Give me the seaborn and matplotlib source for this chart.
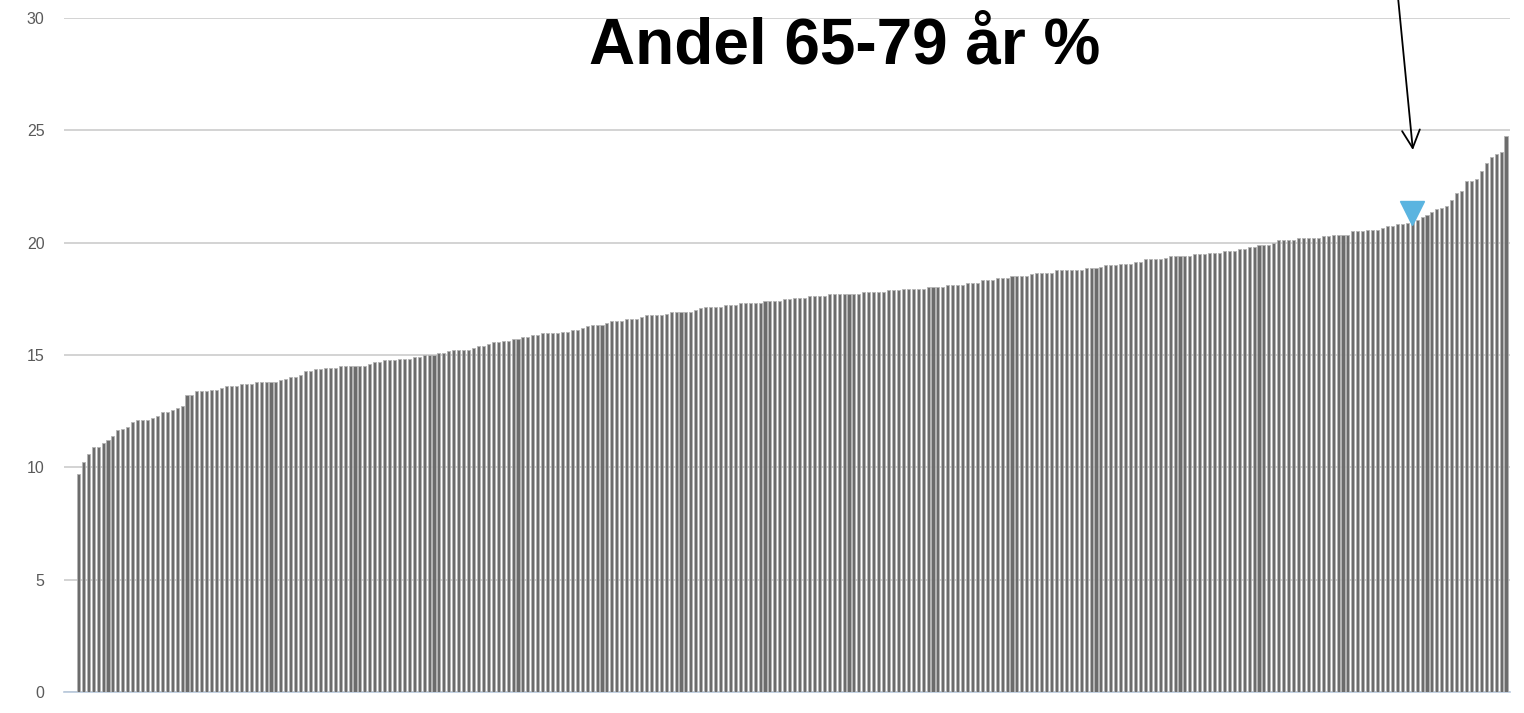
import matplotlib
matplotlib.use('Agg')
import matplotlib.pyplot as plt
import numpy as np
import seaborn as sns

# share of population aged 65-79 per municipality, sorted
seg1 = [9.7, 10.25, 10.58, 10.9, 10.9, 11.06, 11.23, 11.38, 11.65, 11.71, 11.8, 12.02,
        12.11, 12.11, 12.11, 12.19, 12.27, 12.44, 12.44, 12.57, 12.66, 12.75, 13.23, 13.23]
seg2 = [13.39, 13.39, 13.39, 13.46, 13.46, 13.54, 13.63, 13.63, 13.63, 13.72, 13.72, 13.72,
        13.79, 13.79, 13.79, 13.79, 13.79, 13.87, 13.94, 14.03, 14.03, 14.10, 14.27, 14.27]
seg3 = [14.36, 14.36, 14.43, 14.43, 14.43, 14.52, 14.52, 14.52, 14.52, 14.52, 14.52, 14.61,
        14.68, 14.68, 14.76, 14.76, 14.76, 14.83, 14.83, 14.83, 14.92, 14.92, 14.99, 14.99, 14.99]
seg4 = [15.08, 15.08, 15.16, 15.23, 15.23, 15.23, 15.23, 15.32, 15.39, 15.39, 15.47, 15.56,
        15.56, 15.63, 15.63, 15.72, 15.72, 15.80, 15.80, 15.88, 15.88, 15.96, 15.96, 15.96]
seg5 = [15.96, 16.04, 16.04, 16.11, 16.11, 16.20, 16.27, 16.35, 16.35, 16.35, 16.44, 16.51,
        16.51, 16.51, 16.60, 16.60, 16.60, 16.67, 16.76, 16.76, 16.76, 16.76, 16.84, 16.93]
seg6 = [16.93, 16.93, 16.93, 16.93, 17.00, 17.08, 17.15, 17.15, 17.15, 17.15, 17.24, 17.24,
        17.24, 17.31, 17.31, 17.31, 17.31, 17.31, 17.39, 17.39, 17.39, 17.39, 17.48, 17.48, 17.55]
seg7 = [17.55, 17.55, 17.64, 17.64, 17.64, 17.64, 17.73, 17.73, 17.73, 17.73, 17.73, 17.73,
        17.73, 17.80, 17.80, 17.80, 17.80, 17.80, 17.88, 17.88, 17.88, 17.95, 17.95, 17.95]
seg8 = [17.95, 17.95, 18.04, 18.04, 18.04, 18.04, 18.13, 18.13, 18.13, 18.13, 18.22, 18.22,
        18.22, 18.35, 18.35, 18.35, 18.44, 18.44, 18.44, 18.53, 18.53, 18.53, 18.53, 18.62]
seg9 = [18.66, 18.66, 18.66, 18.66, 18.76, 18.76, 18.76, 18.76, 18.76, 18.76, 18.85, 18.85,
        18.85, 18.92, 18.99, 18.99, 18.99, 19.07, 19.07, 19.07, 19.16, 19.16, 19.25, 19.25, 19.25]
seg10 = [19.25, 19.32, 19.41, 19.41, 19.41, 19.41, 19.41, 19.48, 19.48, 19.48, 19.56, 19.56,
         19.56, 19.63, 19.63, 19.63, 19.72, 19.72, 19.80, 19.80, 19.89, 19.89, 19.89, 19.97]
seg11 = [20.11, 20.11, 20.11, 20.11, 20.20, 20.20, 20.20, 20.20, 20.20, 20.29, 20.29, 20.36,
         20.36, 20.36, 20.36, 20.51, 20.51, 20.51, 20.58, 20.58, 20.58, 20.67, 20.75, 20.75]
seg12 = [20.84, 20.84, 20.86, 20.9, 21.0, 21.15, 21.24, 21.37, 21.48, 21.55, 21.64, 21.88,
         22.2, 22.29, 22.75, 22.75, 22.84, 23.17, 23.55, 23.79, 23.94, 24.03, 24.76]

values = seg1 + seg2 + seg3 + seg4 + seg5 + seg6 + seg7 + seg8 + seg9 + seg10 + seg11 + seg12
idx = np.arange(len(values))
highlight = 270
yticks = [0, 5, 10, 15, 20, 25, 30]
title = 'Andel 65-79 år %'

sns.set_style('white')
plt.rcParams['font.family'] = ['Liberation Sans', 'DejaVu Sans']

fig = plt.figure(figsize=(15.24, 7.13), dpi=100)
ax = fig.add_axes([0.042, 0.0295, 0.9488, 0.9453])

sns.barplot(x=idx, y=values, color='#6c6c6c', saturation=1, width=0.62,
            edgecolor='#b4b4b4', linewidth=0.6, ax=ax, zorder=3)

ax.set_xlim(-2.9, len(values) - 0.2)
ax.set_ylim(0, 30)
ax.set_yticks(yticks)
ax.set_yticklabels([str(t) for t in yticks], color='#5a5a5a', fontsize=11.5,
                   family=['Liberation Sans Narrow', 'Liberation Sans', 'DejaVu Sans'])
ax.set_xticks([])
ax.set_xlabel('')
ax.tick_params(axis='y', length=0, pad=14)
ax.yaxis.grid(True, color='#c8c8c8', linewidth=1.1, zorder=0)
for s in ['top', 'right', 'left']:
    ax.spines[s].set_visible(False)
ax.spines['bottom'].set_color('#b8c8dc')
ax.spines['bottom'].set_linewidth(1.2)

# marker for the highlighted municipality
ax.plot(highlight, values[highlight] + 0.42, marker='v', markersize=17,
        color='#5ab4e0', zorder=5, clip_on=False)

ax.annotate('', xy=(highlight + 0.2, 24.0), xytext=(highlight - 2.9, 31.0),
            arrowprops=dict(arrowstyle='->', lw=1.3, color='black', mutation_scale=32),
            annotation_clip=False)

fig.text(0.554, 0.935, title, ha='center', va='center', fontsize=46,
         fontweight='bold', color='black')

fig.savefig('out.png', dpi=100)
